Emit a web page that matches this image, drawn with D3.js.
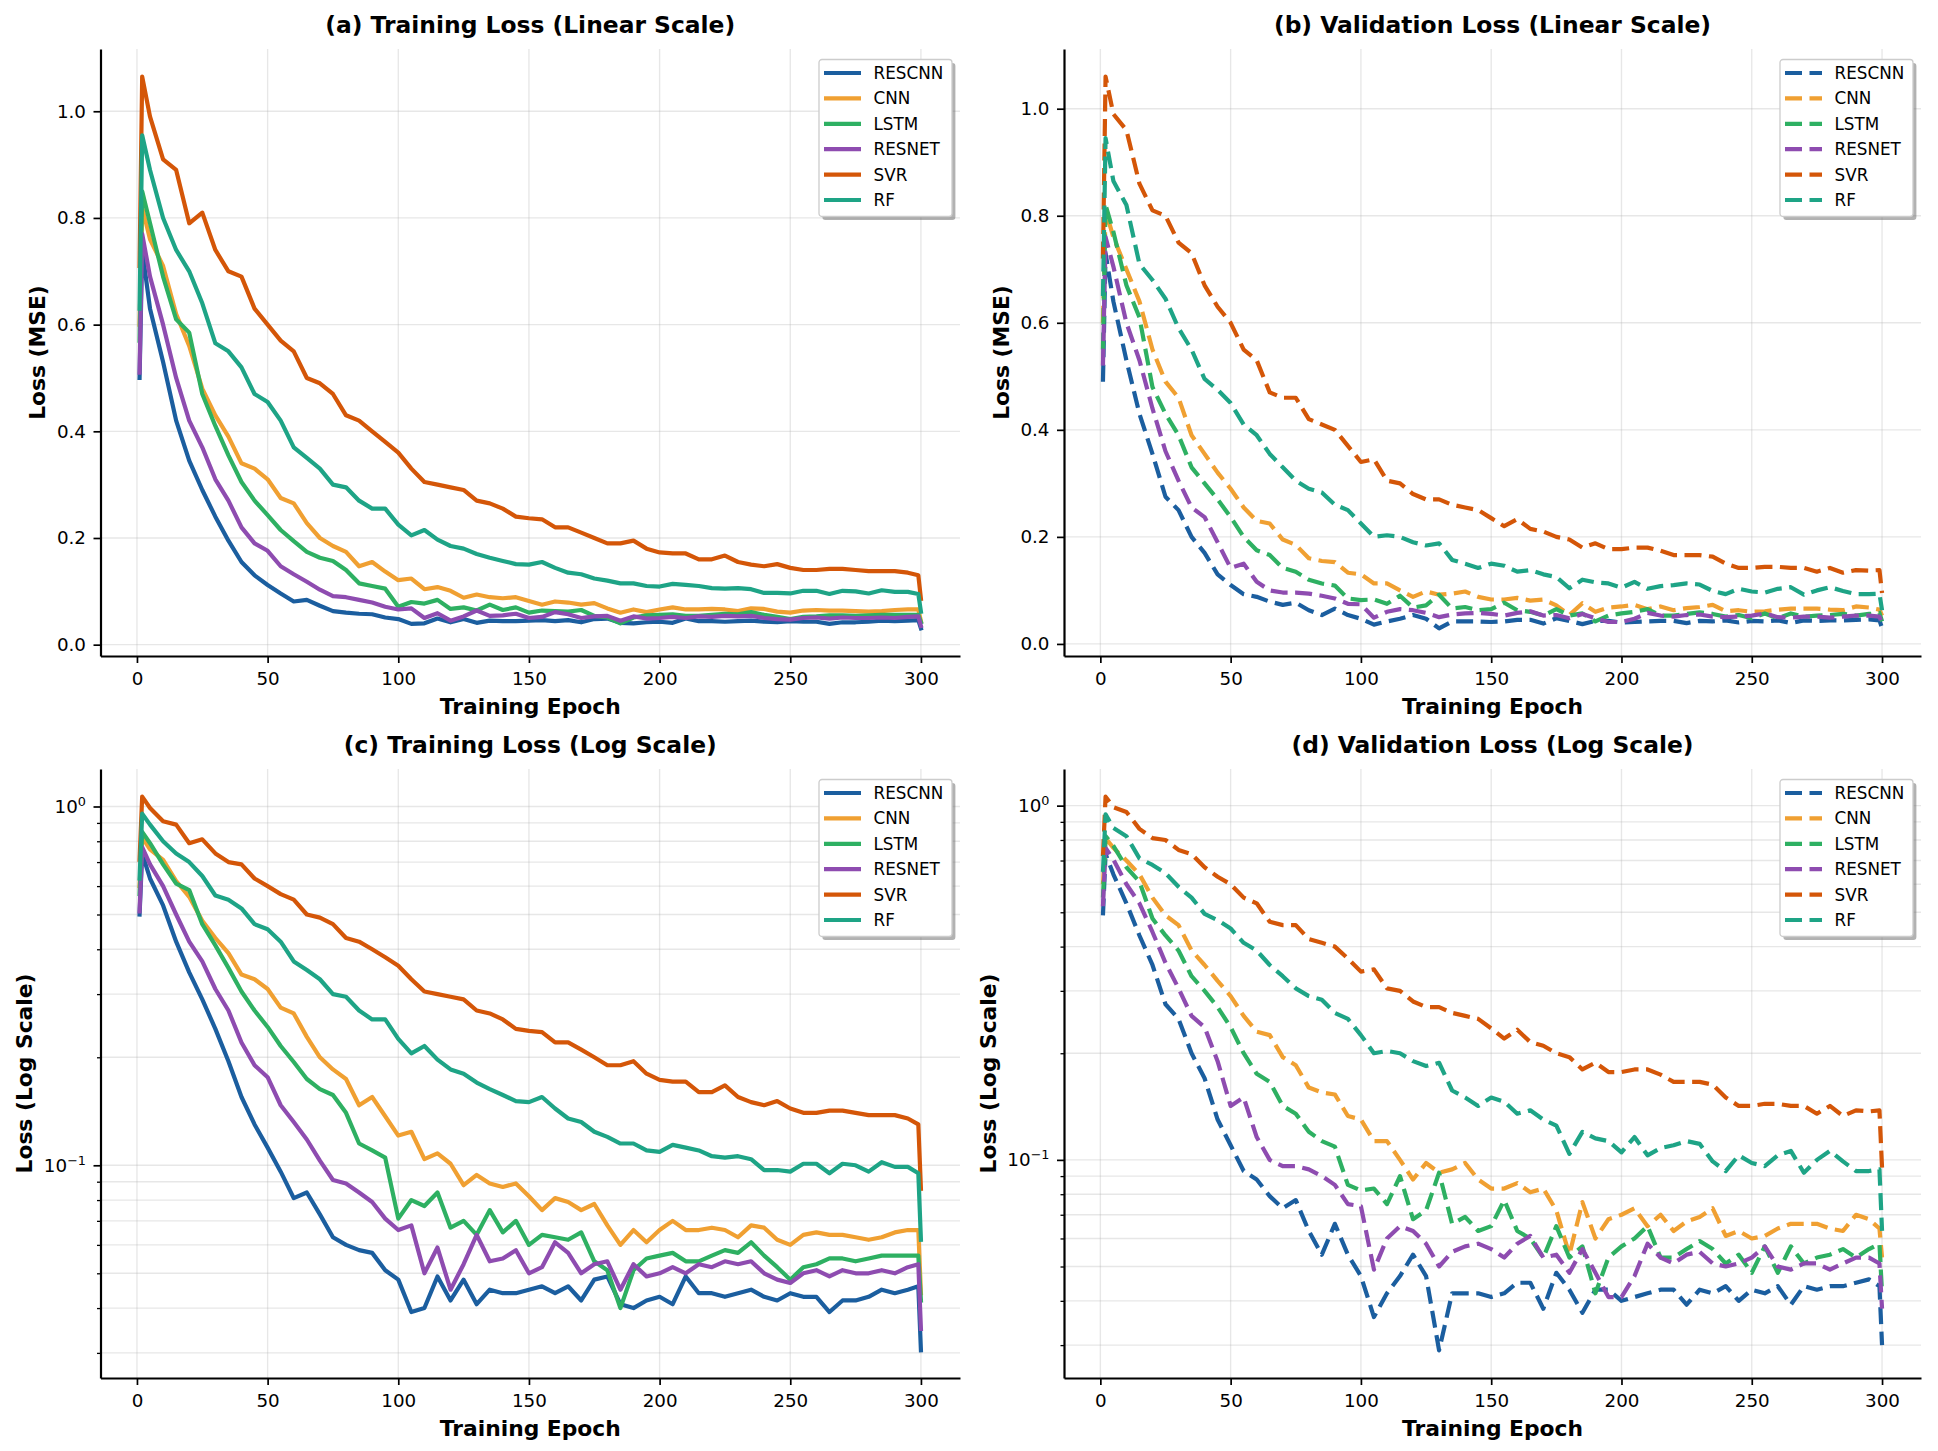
<!DOCTYPE html>
<html>
<head>
<meta charset="utf-8">
<script src="https://cdn.jsdelivr.net/npm/d3@7"></script>
<style>
  html, body { margin: 0; padding: 0; background: #fff; }
  svg { display: block; }
</style>
</head>
<body>
<svg id="fig"></svg>
<script>
const WIDTH = 1938;
const HEIGHT = 1451;
const FONT = "DejaVu Sans, sans-serif";
const LINE_W = 4.2;
const DASH = "17,7.5";

const epochs = [1, 2, 5, 10, 15, 20, 25, 30, 35, 40,
  45, 50, 55, 60, 65, 70, 75, 80, 85, 90,
  95, 100, 105, 110, 115, 120, 125, 130, 135, 140,
  145, 150, 155, 160, 165, 170, 175, 180, 185, 190,
  195, 200, 205, 210, 215, 220, 225, 230, 235, 240,
  245, 250, 255, 260, 265, 270, 275, 280, 285, 290,
  295, 299, 300];

const models = ["RESCNN", "CNN", "LSTM", "RESNET", "SVR", "RF"];
const colors = ["#1b5e9f", "#f0a032", "#2eb062", "#8e4cb0", "#d45608", "#1ea486"];

// training loss
const trainRescnn = [0.50, 0.74, 0.63, 0.53, 0.42, 0.345, 0.29, 0.24, 0.195, 0.155,
  0.13, 0.112, 0.096, 0.081, 0.084, 0.073, 0.063, 0.060, 0.058, 0.057,
  0.051, 0.048, 0.039, 0.040, 0.049, 0.042, 0.048, 0.041, 0.045, 0.044,
  0.044, 0.045, 0.046, 0.044, 0.046, 0.042, 0.048, 0.049, 0.041, 0.040,
  0.042, 0.043, 0.041, 0.049, 0.044, 0.044, 0.043, 0.044, 0.045, 0.043,
  0.042, 0.044, 0.043, 0.043, 0.039, 0.042, 0.042, 0.043, 0.045, 0.044,
  0.045, 0.046, 0.0305];
const trainCnn = [0.60, 0.82, 0.76, 0.71, 0.62, 0.56, 0.48, 0.43, 0.39, 0.34,
  0.33, 0.31, 0.275, 0.265, 0.228, 0.20, 0.185, 0.174, 0.147, 0.155,
  0.137, 0.121, 0.124, 0.104, 0.108, 0.101, 0.088, 0.094, 0.089, 0.087,
  0.089, 0.082, 0.075, 0.081, 0.079, 0.075, 0.078, 0.068, 0.060, 0.066,
  0.061, 0.066, 0.070, 0.066, 0.066, 0.067, 0.066, 0.063, 0.068, 0.067,
  0.062, 0.060, 0.064, 0.065, 0.064, 0.064, 0.063, 0.062, 0.063, 0.065,
  0.066, 0.066, 0.044];
const trainLstm = [0.57, 0.85, 0.79, 0.69, 0.61, 0.585, 0.47, 0.41, 0.355, 0.305,
  0.27, 0.243, 0.215, 0.194, 0.174, 0.163, 0.157, 0.140, 0.115, 0.110,
  0.105, 0.071, 0.080, 0.077, 0.084, 0.067, 0.070, 0.064, 0.075, 0.065,
  0.070, 0.060, 0.064, 0.063, 0.062, 0.065, 0.054, 0.051, 0.040, 0.051,
  0.055, 0.056, 0.057, 0.054, 0.054, 0.056, 0.058, 0.057, 0.061, 0.056,
  0.052, 0.048, 0.052, 0.053, 0.055, 0.055, 0.054, 0.055, 0.056, 0.056,
  0.056, 0.056, 0.042];
const trainResnet = [0.51, 0.77, 0.69, 0.60, 0.50, 0.42, 0.37, 0.31, 0.27, 0.22,
  0.19, 0.176, 0.147, 0.132, 0.118, 0.103, 0.091, 0.089, 0.084, 0.079,
  0.071, 0.066, 0.068, 0.050, 0.059, 0.045, 0.053, 0.064, 0.054, 0.055,
  0.058, 0.050, 0.052, 0.061, 0.057, 0.050, 0.053, 0.054, 0.045, 0.053,
  0.049, 0.050, 0.052, 0.050, 0.053, 0.052, 0.054, 0.053, 0.054, 0.050,
  0.048, 0.047, 0.050, 0.051, 0.049, 0.051, 0.050, 0.050, 0.051, 0.050,
  0.052, 0.053, 0.035];
const trainSvr = [0.71, 1.065, 0.99, 0.91, 0.89, 0.79, 0.81, 0.74, 0.70, 0.69,
  0.63, 0.60, 0.57, 0.55, 0.50, 0.49, 0.47, 0.43, 0.42, 0.40,
  0.38, 0.36, 0.33, 0.305, 0.30, 0.295, 0.29, 0.27, 0.265, 0.255,
  0.24, 0.237, 0.235, 0.22, 0.22, 0.21, 0.20, 0.19, 0.19, 0.195,
  0.18, 0.173, 0.171, 0.171, 0.16, 0.16, 0.167, 0.155, 0.15, 0.147,
  0.151, 0.144, 0.14, 0.14, 0.142, 0.142, 0.14, 0.138, 0.138, 0.138,
  0.135, 0.13, 0.086];
const trainRf = [0.63, 0.955, 0.89, 0.80, 0.74, 0.70, 0.64, 0.565, 0.55, 0.52,
  0.47, 0.455, 0.42, 0.37, 0.35, 0.33, 0.30, 0.295, 0.27, 0.255,
  0.255, 0.225, 0.205, 0.215, 0.197, 0.185, 0.18, 0.17, 0.163, 0.157,
  0.151, 0.15, 0.155, 0.144, 0.135, 0.132, 0.124, 0.12, 0.115, 0.115,
  0.11, 0.109, 0.114, 0.112, 0.11, 0.106, 0.105, 0.106, 0.104, 0.097,
  0.097, 0.096, 0.101, 0.101, 0.095, 0.101, 0.10, 0.096, 0.102, 0.099,
  0.099, 0.095, 0.062];

// validation loss
const valRescnn = [0.49, 0.73, 0.64, 0.53, 0.43, 0.355, 0.275, 0.25, 0.20, 0.17,
  0.13, 0.11, 0.093, 0.088, 0.079, 0.073, 0.077, 0.063, 0.054, 0.066,
  0.054, 0.047, 0.036, 0.042, 0.047, 0.054, 0.047, 0.029, 0.042, 0.042,
  0.042, 0.041, 0.042, 0.045, 0.045, 0.038, 0.048, 0.043, 0.037, 0.043,
  0.043, 0.040, 0.041, 0.042, 0.043, 0.043, 0.039, 0.043, 0.042, 0.044,
  0.040, 0.043, 0.042, 0.044, 0.039, 0.044, 0.043, 0.044, 0.044, 0.045,
  0.046, 0.044, 0.030];
const valCnn = [0.60, 0.81, 0.76, 0.70, 0.64, 0.55, 0.49, 0.46, 0.39, 0.355,
  0.32, 0.29, 0.255, 0.23, 0.225, 0.195, 0.185, 0.16, 0.155, 0.153,
  0.133, 0.13, 0.113, 0.113, 0.10, 0.088, 0.098, 0.092, 0.094, 0.098,
  0.088, 0.083, 0.083, 0.086, 0.081, 0.083, 0.072, 0.054, 0.076, 0.060,
  0.068, 0.070, 0.073, 0.065, 0.070, 0.063, 0.067, 0.069, 0.073, 0.061,
  0.063, 0.060, 0.061, 0.064, 0.066, 0.066, 0.066, 0.064, 0.063, 0.070,
  0.068, 0.064, 0.053];
const valLstm = [0.55, 0.82, 0.77, 0.67, 0.61, 0.48, 0.43, 0.39, 0.33, 0.30,
  0.27, 0.237, 0.20, 0.175, 0.166, 0.142, 0.135, 0.12, 0.113, 0.109,
  0.085, 0.082, 0.083, 0.075, 0.09, 0.068, 0.072, 0.092, 0.066, 0.069,
  0.063, 0.065, 0.077, 0.063, 0.060, 0.053, 0.065, 0.053, 0.057, 0.042,
  0.053, 0.057, 0.060, 0.065, 0.053, 0.053, 0.056, 0.059, 0.056, 0.051,
  0.054, 0.048, 0.057, 0.048, 0.057, 0.051, 0.053, 0.054, 0.056, 0.053,
  0.056, 0.058, 0.042];
const valResnet = [0.52, 0.76, 0.705, 0.60, 0.53, 0.44, 0.36, 0.305, 0.255, 0.237,
  0.19, 0.142, 0.15, 0.116, 0.10, 0.096, 0.096, 0.094, 0.09, 0.085,
  0.075, 0.074, 0.049, 0.06, 0.065, 0.063, 0.058, 0.05, 0.055, 0.057,
  0.058, 0.056, 0.053, 0.058, 0.061, 0.053, 0.054, 0.048, 0.056, 0.048,
  0.041, 0.041, 0.047, 0.058, 0.053, 0.051, 0.054, 0.055, 0.051, 0.05,
  0.051, 0.053, 0.057, 0.05, 0.049, 0.051, 0.051, 0.049, 0.051, 0.053,
  0.053, 0.051, 0.038];
const valSvr = [0.72, 1.06, 0.99, 0.96, 0.86, 0.81, 0.80, 0.75, 0.73, 0.67,
  0.63, 0.60, 0.55, 0.53, 0.47, 0.46, 0.46, 0.42, 0.41, 0.40,
  0.37, 0.34, 0.345, 0.305, 0.30, 0.28, 0.27, 0.27, 0.26, 0.255,
  0.25, 0.235, 0.22, 0.233, 0.215, 0.21, 0.20, 0.195, 0.18, 0.188,
  0.177, 0.177, 0.18, 0.18, 0.174, 0.166, 0.166, 0.166, 0.163, 0.15,
  0.142, 0.142, 0.144, 0.144, 0.142, 0.142, 0.135, 0.142, 0.133, 0.138,
  0.137, 0.138, 0.095];
const valRf = [0.65, 0.945, 0.865, 0.82, 0.71, 0.68, 0.645, 0.59, 0.55, 0.495,
  0.475, 0.45, 0.41, 0.39, 0.355, 0.33, 0.305, 0.29, 0.283, 0.26,
  0.25, 0.225, 0.20, 0.203, 0.20, 0.19, 0.184, 0.188, 0.157, 0.15,
  0.142, 0.15, 0.146, 0.135, 0.138, 0.13, 0.125, 0.104, 0.12, 0.115,
  0.113, 0.105, 0.116, 0.103, 0.108, 0.11, 0.113, 0.111, 0.099, 0.093,
  0.103, 0.098, 0.096, 0.103, 0.106, 0.092, 0.10, 0.106, 0.099, 0.093,
  0.093, 0.094, 0.063];

const epochTicks = [0, 50, 100, 150, 200, 250, 300];
const linearTicks = [0, 0.2, 0.4, 0.6, 0.8, 1.0];
const logMajorTicks = [1, 0.1];
const logMinorTicks = [0.9, 0.8, 0.7, 0.6, 0.5, 0.4, 0.3, 0.2,
  0.09, 0.08, 0.07, 0.06, 0.05, 0.04, 0.03, 0.02];

const trainSeries = [trainRescnn, trainCnn, trainLstm, trainResnet, trainSvr, trainRf];
const valSeries = [valRescnn, valCnn, valLstm, valResnet, valSvr, valRf];

const panels = [
  {title: "(a) Training Loss (Linear Scale)", ylabel: "Loss (MSE)", series: trainSeries,
   log: false, dashed: false, left: 100.5, right: 960, top: 49, bottom: 656},
  {title: "(b) Validation Loss (Linear Scale)", ylabel: "Loss (MSE)", series: valSeries,
   log: false, dashed: true, left: 1064, right: 1921, top: 49, bottom: 656},
  {title: "(c) Training Loss (Log Scale)", ylabel: "Loss (Log Scale)", series: trainSeries,
   log: true, dashed: false, left: 100.5, right: 960, top: 769, bottom: 1378},
  {title: "(d) Validation Loss (Log Scale)", ylabel: "Loss (Log Scale)", series: valSeries,
   log: true, dashed: true, left: 1064, right: 1921, top: 769, bottom: 1378}
];

const svg = d3.select("#fig")
  .attr("width", WIDTH)
  .attr("height", HEIGHT)
  .attr("viewBox", `0 0 ${WIDTH} ${HEIGHT}`);

svg.append("rect").attr("width", WIDTH).attr("height", HEIGHT).attr("fill", "#fff");

panels.forEach(p => drawPanel(p));

function styleAxis(g, fontSize) {
  g.attr("font-family", FONT).attr("font-size", fontSize);
  g.select(".domain").attr("stroke", "#000").attr("stroke-width", 2.2);
  g.selectAll(".tick line").attr("stroke", "#000").attr("stroke-width", 1.7);
  g.selectAll(".tick text").attr("fill", "#000");
}

function drawPanel(p) {
  const g = svg.append("g");

  const xPad = (300 - 1) * 0.05;
  const x = d3.scaleLinear().domain([1 - xPad, 300 + xPad]).range([p.left, p.right]);

  const all = p.series.flat();
  let y;
  if (p.log) {
    const lo = Math.log10(d3.min(all)), hi = Math.log10(d3.max(all));
    const m = (hi - lo) * 0.05;
    y = d3.scaleLog().domain([Math.pow(10, lo - m), Math.pow(10, hi + m)]).range([p.bottom, p.top]);
  } else {
    const lo = d3.min(all), hi = d3.max(all);
    const m = (hi - lo) * 0.05;
    y = d3.scaleLinear().domain([lo - m, hi + m]).range([p.bottom, p.top]);
  }
  const [yMin, yMax] = y.domain();
  const minor = logMinorTicks.filter(v => v >= yMin && v <= yMax);
  const yGridVals = p.log ? logMajorTicks.concat(minor) : linearTicks;

  // grid
  const grid = g.append("g").attr("stroke", "#b0b0b0").attr("stroke-opacity", 0.3).attr("stroke-width", 1.35);
  grid.selectAll(".vg").data(epochTicks).enter().append("line")
    .attr("x1", d => x(d)).attr("x2", d => x(d))
    .attr("y1", p.top).attr("y2", p.bottom);
  grid.selectAll(".hg").data(yGridVals).enter().append("line")
    .attr("x1", p.left).attr("x2", p.right)
    .attr("y1", d => y(d)).attr("y2", d => y(d));

  // lines
  const line = d3.line().x((d, i) => x(epochs[i])).y(d => y(d));
  p.series.forEach((s, k) => {
    g.append("path")
      .datum(s)
      .attr("d", line)
      .attr("fill", "none")
      .attr("stroke", colors[k])
      .attr("stroke-width", LINE_W)
      .attr("stroke-linejoin", "round")
      .attr("stroke-linecap", p.dashed ? "butt" : "square")
      .attr("stroke-dasharray", p.dashed ? DASH : null);
  });

  // axes
  const xAxis = g.append("g")
    .attr("transform", `translate(0,${p.bottom})`)
    .call(d3.axisBottom(x).tickValues(epochTicks).tickFormat(d3.format("d"))
      .tickSize(7).tickSizeOuter(0).tickPadding(9.5));
  styleAxis(xAxis, 18.3);

  const yAxisG = g.append("g").attr("transform", `translate(${p.left},0)`);
  if (p.log) {
    yAxisG.call(d3.axisLeft(y).tickValues(logMajorTicks).tickFormat(() => "10")
      .tickSize(7).tickSizeOuter(0).tickPadding(7.5));
    yAxisG.selectAll(".tick text").each(function(d) {
      const e = Math.round(Math.log10(d));
      d3.select(this).append("tspan")
        .attr("dy", "-0.55em")
        .attr("font-size", 12.8)
        .text(e < 0 ? "\u2212" + Math.abs(e) : String(e));
    });
    const minorG = g.append("g").attr("transform", `translate(${p.left},0)`)
      .call(d3.axisLeft(y).tickValues(minor).tickFormat(() => "").tickSize(3.5).tickSizeOuter(0));
    minorG.select(".domain").remove();
    minorG.selectAll(".tick line").attr("stroke", "#000").attr("stroke-width", 1.3);
  } else {
    yAxisG.call(d3.axisLeft(y).tickValues(linearTicks).tickFormat(d3.format(".1f"))
      .tickSize(7).tickSizeOuter(0).tickPadding(7.5));
  }
  styleAxis(yAxisG, 18.3);

  // titles and labels
  const cx = (p.left + p.right) / 2;
  g.append("text")
    .attr("x", cx).attr("y", p.top - 16)
    .attr("text-anchor", "middle")
    .attr("font-family", FONT).attr("font-weight", "bold").attr("font-size", 23.4)
    .text(p.title);
  g.append("text")
    .attr("x", cx).attr("y", p.bottom + 58)
    .attr("text-anchor", "middle")
    .attr("font-family", FONT).attr("font-weight", "bold").attr("font-size", 21.8)
    .text("Training Epoch");

  const tickBox = yAxisG.node().getBBox();
  const labelX = tickBox.x + p.left - 11.8;
  const cy = (p.top + p.bottom) / 2;
  g.append("text")
    .attr("transform", `translate(${labelX},${cy}) rotate(-90)`)
    .attr("text-anchor", "middle")
    .attr("font-family", FONT).attr("font-weight", "bold").attr("font-size", 21.8)
    .text(p.ylabel);

  // legend
  const lw = 133, lh = 157;
  const lx = p.right - 8 - lw, ly = p.top + 10.5;
  const leg = g.append("g").attr("transform", `translate(${lx},${ly})`);
  leg.append("rect")
    .attr("x", 3.4).attr("y", 3.4).attr("width", lw).attr("height", lh).attr("rx", 3)
    .attr("fill", "#666").attr("fill-opacity", 0.5);
  leg.append("rect")
    .attr("width", lw).attr("height", lh).attr("rx", 3)
    .attr("fill", "#fff").attr("stroke", "#cccccc").attr("stroke-width", 1.3);
  models.forEach((name, k) => {
    const ry = 13.5 + k * 25.4;
    leg.append("line")
      .attr("x1", 5).attr("x2", 42).attr("y1", ry).attr("y2", ry)
      .attr("stroke", colors[k]).attr("stroke-width", LINE_W)
      .attr("stroke-dasharray", p.dashed ? DASH : null);
    leg.append("text")
      .attr("x", 54.5).attr("y", ry + 6)
      .attr("font-family", FONT).attr("font-size", 16.8)
      .text(name);
  });
}
</script>
</body>
</html>
